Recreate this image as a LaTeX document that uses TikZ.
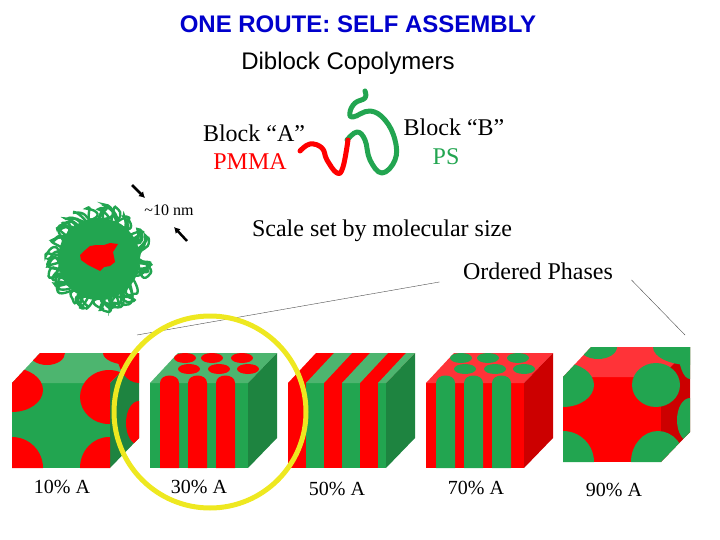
\documentclass[tikz,border=0pt]{standalone}
\usepackage{fontspec}
\setmainfont{Liberation Serif}
\newfontfamily\arialfont{Liberation Sans}
\usetikzlibrary{positioning, arrows.meta}

\definecolor{blockred}{HTML}{FF0000}
\definecolor{blockredtop}{HTML}{FF3338}
\definecolor{blockredside}{HTML}{CC0000}
\definecolor{blockgreen}{HTML}{22A550}
\definecolor{blockgreentop}{HTML}{4DB56F}
\definecolor{blockgreenside}{HTML}{1E8440}
\definecolor{ringyellow}{HTML}{EEE820}

\tikzset{
    title/.style={font=\arialfont\fontsize{24}{28}\selectfont},
    label/.style={font=\fontsize{24}{28}\selectfont},
    percent/.style={font=\fontsize{20}{24}\selectfont},
    chain/.style={line width=5pt, line cap=round, line join=round},
    curl/.style={draw=blockgreen, line width=2.4pt, line cap=round},
    pointer/.style={line width=2.5pt, -{Latex[length=6pt,width=7pt]}},
    thinline/.style={line width=0.4pt, draw=black!70},
}

\newcommand{\cubehull}{(0,0) -- (28,-30) -- (127,-30) -- (127,55) -- (98,85) -- (0,85) -- cycle}
\newcommand{\fronttop}{(0,0) -- (28,-30) -- (127,-30) -- (98,0) -- (98,85) -- (0,85) -- cycle}
\newcommand{\cubefaces}[3]{
    \fill[#1] (0,0) rectangle (98,85);
    \fill[#2] (0,0) -- (28,-30) -- (127,-30) -- (98,0) -- cycle;
    \fill[#3] (98,0) -- (127,-30) -- (127,55) -- (98,85) -- cycle;
}
\newcommand{\rodtop}[3]{\fill[#3] (#1,85) -- (#1,0) .. controls (#1,-10) and (#2,-10) .. (#2,0) -- (#2,85) -- cycle;}

\begin{document}
\begin{tikzpicture}[x=1pt, y=-1pt]
    \useasboundingbox (0,0) rectangle (720,540);

    % headings
    \node[title, text=blue!80!black, font=\arialfont\bfseries\fontsize{24}{28}\selectfont] (route) at (358,24) {ONE ROUTE: SELF ASSEMBLY};
    \node[title] (diblock) at (348,63) {Diblock Copolymers};

    % the two chains
    \node[label] (blockA) at (254,133) {Block “A”};
    \node[label, text=blockred] (pmma) at (250,162) {PMMA};
    \node[label] (blockB) at (454,127) {Block “B”};
    \node[label, text=blockgreen] (ps) at (446,157) {PS};
    \draw[chain, blockgreen] plot[smooth, tension=0.7] coordinates {(347,140) (357,132) (365,140) (370,160) (382,173) (395,160) (395,140) (385,120) (370,111) (353,117) (350,112) (355,103) (365,98) (365,91)};
    \draw[chain, blockred] plot[smooth, tension=0.7] coordinates {(300,151) (310,144) (322,148) (327,160) (337,173) (343,167) (348,140)};

    % micelle
    \begin{scope}[shift={(99,259)}]
        \pgfmathsetseed{11}
        \fill[blockgreen] (0,0) circle (41);
        \foreach \a in {0,7,...,357} {
            \pgfmathsetmacro{\da}{10*rand}
            \pgfmathsetmacro{\db}{16*rand}
            \pgfmathsetmacro{\ra}{47+8*rnd}
            \draw[curl] (\a:36) .. controls (\a+\da:44) and (\a+\db:56) .. (\a+\da+\db:\ra) .. controls (\a+\da+\db+14:\ra-3) and (\a+\db+10:\ra-10) .. (\a+\da+6:40);
        }
    \end{scope}
    \fill[blockred] (84,251) -- (90,246) -- (96,245) -- (104,245) -- (110,243) -- (118,244) -- (113,252) -- (115,262) -- (110,266) -- (104,267) -- (100,271) -- (94,268) -- (88,265) -- (81,260) -- (80,255) -- cycle;

    \node[font=\fontsize{16}{18}\selectfont] (size) at (169,210) {\textasciitilde 10 nm};
    \coordinate (sizeA) at (132,185);
    \coordinate (sizeB) at (145,198);
    \coordinate (sizeC) at (187,241);
    \coordinate (sizeD) at (174,227);
    \draw[pointer] (sizeA) -- (sizeB);
    \draw[pointer] (sizeC) -- (sizeD);

    \node[label] (scale) at (382,231) {Scale set by molecular size};
    \node[label] (ordered) at (538,271) {Ordered Phases};
    \coordinate (leftEnd) at (137,335);
    \coordinate (rightEnd) at (685,335);
    \coordinate (leftStart) at ([shift={(-20,-1)}]ordered.south west);
    \coordinate (rightStart) at ([shift={(15,-3)}]ordered.south east);
    \draw[thinline] (leftStart) -- (leftEnd);
    \draw[thinline] (rightStart) -- (rightEnd);

    % 10% A
    \begin{scope}[shift={(12,383)}]
        \cubefaces{blockgreen}{blockgreentop}{blockgreenside}
        \begin{scope}
            \clip \fronttop;
            \fill[blockred] (0,7) ellipse [x radius=31, y radius=22];
            \fill[blockred] (0,85) ellipse [x radius=31, y radius=31];
            \fill[blockred] (97,85) ellipse [x radius=29, y radius=31];
            \fill[blockred] (35,-30) ellipse [x radius=18, y radius=12];
            \fill[blockred] (118,-30) ellipse [x radius=27, y radius=12];
            \fill[blockred] (97,14) ellipse [x radius=29, y radius=27];
        \end{scope}
        \begin{scope}
            \clip \cubehull;
            \fill[blockred] (127,-30) ellipse [x radius=22, y radius=30];
            \fill[blockred] (127,40) ellipse [x radius=13, y radius=22];
        \end{scope}
    \end{scope}
    \node[percent] (tenA) at (62,487) {10\% A};

    % 30% A
    \begin{scope}[shift={(150,383)}]
        \cubefaces{blockgreen}{blockgreentop}{blockgreenside}
        \foreach \px/\py in {35/-25,62/-25,92/-25,39/-14,69/-14,98/-14} {
            \fill[blockred] (\px,\py) ellipse [x radius=11, y radius=5];
        }
        \rodtop{10}{29}{blockred}
        \rodtop{38}{57}{blockred}
        \rodtop{66}{85}{blockred}
    \end{scope}
    \node[percent] (thirtyA) at (199,487) {30\% A};

    % 50% A
    \begin{scope}[shift={(288,383)}]
        \cubefaces{blockred}{blockred}{blockgreenside}
        \foreach \s in {18,54,90} {
            \fill[blockgreen] (\s,0) rectangle ({min(\s+18,98)},85);
            \fill[blockgreentop] (\s,0) -- (\s+28,-30) -- ({min(\s+46,127)},-30) -- ({min(\s+18,98)},0) -- cycle;
        }
    \end{scope}
    \node[percent] (fiftyA) at (337,489) {50\% A};

    % 70% A
    \begin{scope}[shift={(426,383)}]
        \cubefaces{blockred}{blockredtop}{blockredside}
        \foreach \px/\py in {35/-25,62/-25,92/-25,39/-14,69/-14,98/-14} {
            \fill[blockgreen] (\px,\py) ellipse [x radius=11, y radius=5];
        }
        \rodtop{10}{29}{blockgreen}
        \rodtop{38}{57}{blockgreen}
        \rodtop{66}{85}{blockgreen}
    \end{scope}
    \node[percent] (seventyA) at (476,488) {70\% A};

    % 90% A
    \begin{scope}[shift={(563,377)}]
        \cubefaces{blockred}{blockredtop}{blockredside}
        \begin{scope}
            \clip \cubehull;
            \fill[blockgreen] (0,8) ellipse [x radius=31, y radius=22];
            \fill[blockgreen] (0,85) ellipse [x radius=31, y radius=31];
            \fill[blockgreen] (35,-30) ellipse [x radius=19, y radius=12];
            \fill[blockgreen] (127,-30) ellipse [x radius=37, y radius=18];
            \fill[blockgreen] (127,-30) ellipse [x radius=12, y radius=32];
            \fill[blockgreen] (127,43) ellipse [x radius=13, y radius=22];
            \fill[blockgreen] (93,8) ellipse [x radius=24, y radius=22];
            \fill[blockgreen] (95,85) ellipse [x radius=27, y radius=31];
        \end{scope}
    \end{scope}
    \node[percent] (ninetyA) at (614,490) {90\% A};

    % selected phase
    \node[circle, draw=ringyellow, line width=5pt, minimum size=192pt, inner sep=0pt] (ring) at (210,412) {};
\end{tikzpicture}
\end{document}
